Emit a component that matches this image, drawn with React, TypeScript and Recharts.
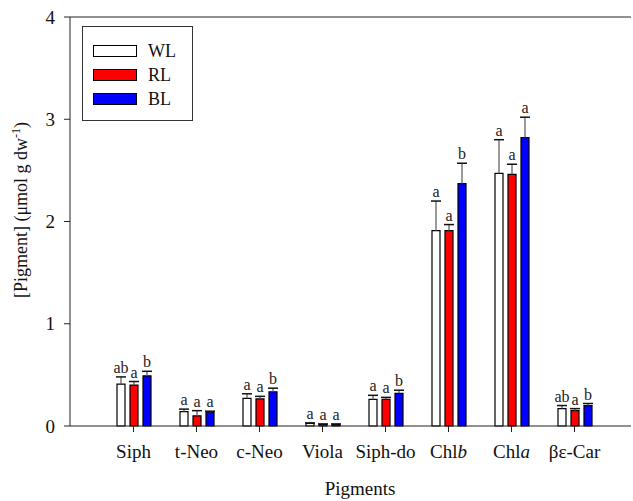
import { BarChart, Bar, XAxis, YAxis, ReferenceLine, LabelList } from 'recharts'

const categories = ['Siph', 't-Neo', 'c-Neo', 'Viola', 'Siph-do', 'Chlb', 'Chla', 'βε-Car']
const yTicks = [0, 1, 2, 3, 4]

const wl = [0.41, 0.14, 0.27, 0.025, 0.26, 1.91, 2.47, 0.17]
const wlErr = [0.07, 0.025, 0.045, 0.005, 0.04, 0.29, 0.33, 0.03]
const wlLetters = ['ab', 'a', 'a', 'a', 'a', 'a', 'a', 'ab']

const rl = [0.4, 0.1, 0.265, 0.015, 0.26, 1.91, 2.46, 0.15]
const rlErr = [0.035, 0.05, 0.025, 0.005, 0.02, 0.06, 0.1, 0.02]
const rlLetters = ['a', 'a', 'a', 'a', 'a', 'a', 'a', 'a']

const bl = [0.49, 0.135, 0.335, 0.015, 0.32, 2.37, 2.82, 0.2]
const blErr = [0.045, 0.01, 0.035, 0.005, 0.03, 0.2, 0.2, 0.02]
const blLetters = ['b', 'a', 'b', 'a', 'b', 'b', 'a', 'b']

const data = categories.map((name, i) => ({
  name,
  wl: wl[i], wlErr: wlErr[i], wlL: wlLetters[i],
  rl: rl[i], rlErr: rlErr[i], rlL: rlLetters[i],
  bl: bl[i], blErr: blErr[i], blL: blLetters[i],
}))

const FONT = 'Liberation Serif, serif'
const AXIS = '#222'

const series = [
  { key: 'wl', name: 'WL', fill: '#ffffff' },
  { key: 'rl', name: 'RL', fill: '#ff0000' },
  { key: 'bl', name: 'BL', fill: '#0000ff' },
]

function ErrShape(props: any) {
  const { x, y, width, height } = props
  const cx = x + width / 2
  return (
    <g>
      <line x1={cx} x2={cx} y1={y} y2={y + height} stroke="#555" strokeWidth={1.2} />
      <line x1={cx - 5} x2={cx + 5} y1={y} y2={y} stroke="#111" strokeWidth={1.5} />
    </g>
  )
}

function Letter(props: any) {
  const { x, y, width, value } = props
  return (
    <text x={x + width / 2} y={y - 4} textAnchor="middle" style={{ fontFamily: FONT, fontSize: 16 }} fill="#222">
      {value}
    </text>
  )
}

function XTick(props: any) {
  const { x, y, payload } = props
  const v: string = payload.value
  const italic = v.startsWith('Chl')
  return (
    <text x={x} y={y + 24} textAnchor="middle" style={{ fontFamily: FONT, fontSize: 19 }} fill="#111">
      {italic ? (
        <>
          <tspan>Chl</tspan>
          <tspan fontStyle="italic">{v.slice(3)}</tspan>
        </>
      ) : (
        v
      )}
    </text>
  )
}

function YTick(props: any) {
  const { x, y, payload } = props
  return (
    <text x={x} y={y + 6.5} textAnchor="end" style={{ fontFamily: FONT, fontSize: 19 }} fill="#111">
      {payload.value}
    </text>
  )
}

function LegendBox() {
  return (
    <div
      style={{
        position: 'absolute',
        left: 82,
        top: 26,
        width: 111,
        height: 95,
        border: '1px solid #333',
        boxSizing: 'border-box',
        background: '#fff',
        paddingTop: 12,
        paddingLeft: 10,
        fontFamily: FONT,
        fontSize: 18,
        color: '#111',
      }}
    >
      {series.map((s) => (
        <div key={s.key} style={{ display: 'flex', alignItems: 'center', height: 24 }}>
          <div
            style={{
              width: 44,
              height: 12,
              background: s.fill,
              border: '1.5px solid #000',
              boxSizing: 'border-box',
              marginRight: 11,
            }}
          />
          <span style={{ lineHeight: '18px' }}>{s.name}</span>
        </div>
      ))}
    </div>
  )
}

function YLabel() {
  return (
    <text
      x={27}
      y={210}
      transform="rotate(-90, 27, 210)"
      textAnchor="middle"
      style={{ fontFamily: FONT, fontSize: 18 }}
      fill="#111"
    >
      [Pigment] (μmol g dw
      <tspan dy={-7} style={{ fontSize: 12 }}>-1</tspan>
      <tspan dy={7}>)</tspan>
    </text>
  )
}

export default function App() {
  return (
    <div style={{ position: 'absolute', left: 0, top: 0, width: 633, height: 501, background: '#fff', fontFamily: FONT }}>
      <BarChart
        width={633}
        height={501}
        data={data}
        margin={{ top: 17, right: 2, bottom: 0, left: 0 }}
        barSize={8}
        barGap={5}
      >
        <XAxis
          dataKey="name"
          height={75}
          padding={{ left: 32, right: 25 }}
          axisLine={{ stroke: AXIS }}
          tickLine={{ stroke: AXIS }}
          tickSize={6}
          tick={<XTick />}
          interval={0}
          label={{
            content: () => (
              <text x={360} y={495} textAnchor="middle" style={{ fontFamily: FONT, fontSize: 19 }} fill="#111">
                Pigments
              </text>
            ),
          }}
        />
        <YAxis
          width={70}
          domain={[0, 4]}
          ticks={yTicks}
          interval={0}
          axisLine={{ stroke: AXIS }}
          tickLine={{ stroke: AXIS }}
          tickSize={6}
          tickMargin={9}
          tick={<YTick />}
          label={{ content: () => <YLabel /> }}
        />
        <ReferenceLine y={4} stroke={AXIS} />
        {series.map((s) => [
          <Bar
            key={s.key}
            dataKey={s.key}
            name={s.name}
            stackId={s.key}
            fill={s.fill}
            stroke="#000"
            strokeWidth={1.2}
            isAnimationActive={false}
          />,
          <Bar
            key={s.key + 'Err'}
            dataKey={s.key + 'Err'}
            stackId={s.key}
            fill="transparent"
            legendType="none"
            shape={<ErrShape />}
            isAnimationActive={false}
          >
            <LabelList dataKey={s.key + 'L'} content={<Letter />} />
          </Bar>,
        ])}
      </BarChart>
      <LegendBox />
    </div>
  )
}
